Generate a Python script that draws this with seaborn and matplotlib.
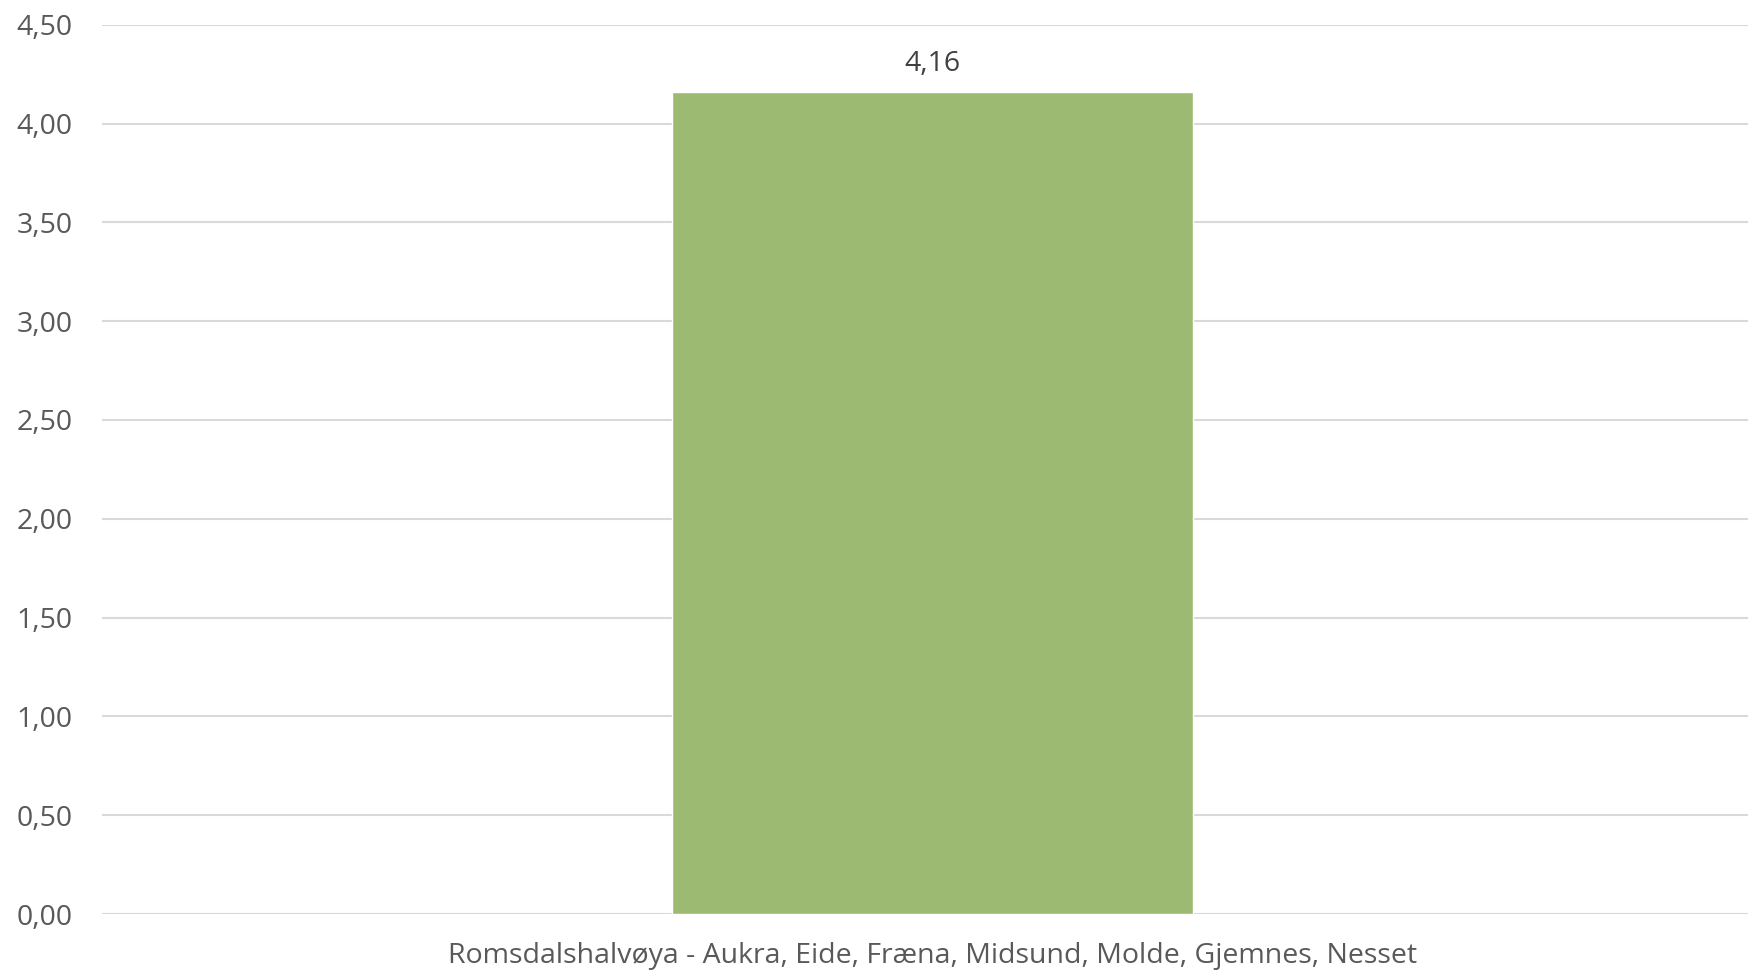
import numpy as np
import pandas as pd
import seaborn as sns
import matplotlib.pyplot as plt
from matplotlib.ticker import FuncFormatter

regioner = ["Romsdalshalvøya - Aukra, Eide, Fræna, Midsund, Molde, Gjemnes, Nesset"]
verdier = [4.16]

df = pd.DataFrame({"Region": regioner, "Verdi": verdier})

sns.set_theme(style="white")
plt.rcParams["font.family"] = ["Open Sans", "DejaVu Sans"]

fig = plt.figure(figsize=(17.48, 9.73), dpi=100)
ax = fig.add_axes([0.0584, 0.0606, 0.95, 0.914])

sns.barplot(data=df, x="Region", y="Verdi", color="#9DBA73", width=0.314,
            saturation=1, ax=ax, zorder=3)

ax.set_ylim(0, 4.5)
ax.set_yticks(np.arange(0, 4.51, 0.5))
ax.yaxis.set_major_formatter(FuncFormatter(lambda v, p: f"{v:.2f}".replace(".", ",")))
ax.grid(axis="y", color="#d9d9d9", linewidth=1.5, zorder=0)
ax.set_axisbelow(True)
for s in ax.spines.values():
    s.set_visible(False)
ax.set_xlabel("")
ax.set_ylabel("")
ax.tick_params(axis="both", length=0, labelsize=20.5, labelcolor="#595959")
ax.tick_params(axis="y", pad=21)
ax.tick_params(axis="x", pad=20)

for p, v in zip(ax.patches, verdier):
    ax.annotate(f"{v:.2f}".replace(".", ","),
                (p.get_x() + p.get_width() / 2, p.get_height()),
                xytext=(0, 10), textcoords="offset points",
                ha="center", va="bottom", fontsize=20.5, color="#404040")

plt.savefig("out.png", dpi=100)
plt.close()
